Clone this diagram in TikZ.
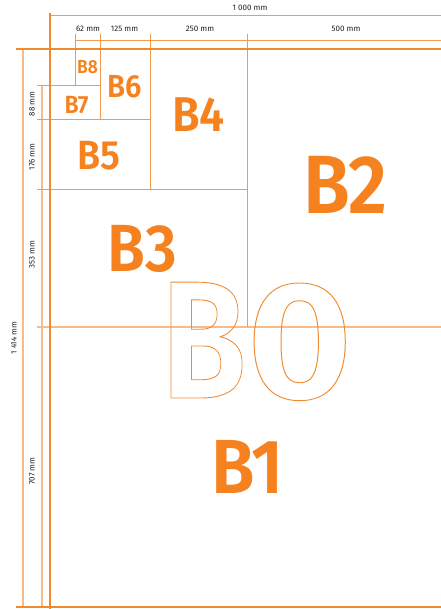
\documentclass[tikz,border=0pt]{standalone}
\usepackage{fontspec}
\setmainfont{Fira Sans}
\newfontfamily\labfont{Fira Sans SemiBold}
\definecolor{dark}{HTML}{F08A2E}
\definecolor{mid}{HTML}{F29B50}
\definecolor{light}{HTML}{F8BB8C}
\definecolor{lab}{HTML}{F5821F}
\definecolor{dimtxt}{HTML}{231F20}
\tikzset{
  sheet/.style={draw=dark, line width=2bp},
  divline/.style={draw=mid, line width=1bp},
  dimline/.style={draw=light, line width=1.6bp},
  topdim/.style={draw=mid, line width=1bp},
  blabel/.style={anchor=base, inner sep=0pt, text=lab},
  dimlabel/.style={inner sep=0pt, text=dimtxt, font=\fontsize{8}{9}\selectfont},
}
\newcommand{\bsize}[1]{\labfont\fontsize{#1}{#1}\selectfont}
\newcommand{\nar}[1]{\scalebox{0.92}[1]{#1}}
\begin{document}
\begin{tikzpicture}[x=1bp,y=-1bp]
\useasboundingbox (0,0) rectangle (441,609);
% dimension lines (light)
\draw[dimline] (23,49) -- (23,607);
\draw[dimline] (42,86) -- (42,607);
\draw[dimline] (37,327) -- (441,327);
% top dimension lines
\draw[topdim] (50,16) -- (441,16);
\draw[topdim] (75,41) -- (441,41);
% division lines
\draw[divline] (75,34) -- (75,86);
\draw[divline] (100,34) -- (100,120);
\draw[divline] (150,34) -- (150,189);
\draw[divline] (247,34) -- (247,327);
\draw[divline] (37,86) -- (100,86);
\draw[divline] (37,120) -- (150,120);
\draw[divline] (37,189) -- (247,189);
% sheet border
\draw[sheet] (16,49) -- (441,49);
\draw[sheet] (16,607) -- (441,607);
\draw[sheet] (50,13) -- (50,609);
% dimension labels
\node[dimlabel] (d1000) at (250,8) {1 000 mm};
\node[dimlabel] (d62) at (88,29) {62 mm};
\node[dimlabel] (d125) at (124.5,29) {125 mm};
\node[dimlabel] (d250) at (200,29) {250 mm};
\node[dimlabel] (d500) at (346,29) {500 mm};
\node[dimlabel, rotate=90] (d88) at (32,104) {88 mm};
\node[dimlabel, rotate=90] (d176) at (32,157) {176 mm};
\node[dimlabel, rotate=90] (d353) at (32,254.5) {353 mm};
\node[dimlabel, rotate=90] (d707) at (32,471) {707 mm};
\node[dimlabel, rotate=90] (d1414) at (14,338) {1 414 mm};
% B0 outline
\node[blabel, text=dark, font=\bsize{168}] (b0) at (257,398)
  {\special{pdf:literal direct 1 Tr 0.9 w}\scalebox{0.83}[1]{B}\scalebox{1.1}[1]{0}\special{pdf:literal direct 0 Tr}};
% sheet labels
\node[blabel, font=\bsize{83}] (b2) at (345.5,213) {\nar{B2}};
\node[blabel, font=\bsize{77}] (b1) at (247.5,493) {\nar{B1}};
\node[blabel, font=\bsize{67}] (b3) at (142.5,271) {\nar{B3}};
\node[blabel, font=\bsize{49}] (b4) at (198.5,132) {\nar{B4}};
\node[blabel, font=\bsize{41}] (b5) at (99,170) {\nar{B5}};
\node[blabel, font=\bsize{32}] (b6) at (125,98) {\nar{B6}};
\node[blabel, font=\bsize{25}] (b7) at (76.5,114) {\nar{B7}};
\node[blabel, font=\bsize{19}] (b8) at (87.5,74) {\nar{B8}};
\end{tikzpicture}
\end{document}
